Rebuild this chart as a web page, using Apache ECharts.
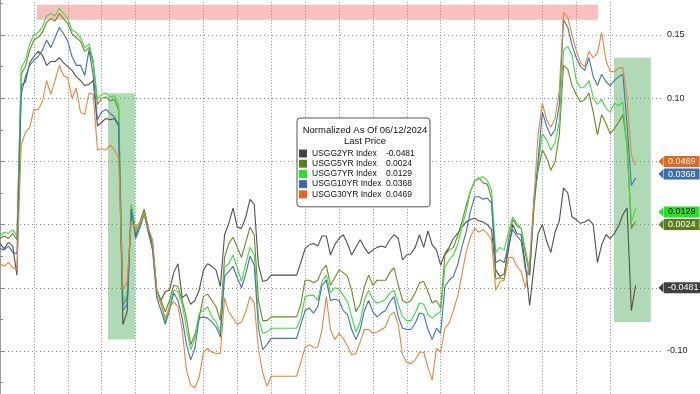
<!DOCTYPE html>
<html>
<head>
<meta charset="utf-8">
<script src="https://cdn.jsdelivr.net/npm/echarts@6/dist/echarts.min.js"></script>
<style>
html,body{margin:0;padding:0;background:#fff;}
#chart{width:700px;height:394px;}
</style>
</head>
<body>
<div id="chart"></div>
<script>
// ---------- DATA ----------
const seriesNames = ['USGG2YR Index', 'USGG5YR Index', 'USGG7YR Index', 'USGG10YR Index', 'USGG30YR Index'];
const titleText = 'Normalized As Of 06/12/2024';
const subtitleText = 'Last Price';

const usgg2yr = [
 -0.015,-0.019,-0.014,-0.017,-0.040, 0.110, 0.113, 0.128, 0.133, 0.137,
  0.134, 0.126, 0.129, 0.129, 0.132, 0.128, 0.125, 0.122, 0.117, 0.114,
  0.110, 0.111, 0.114, 0.078, 0.081, 0.084, 0.083, 0.084, 0.078,-0.079,
 -0.069, 0.015,-0.009, 0.000, 0.012,-0.003,-0.016,-0.052,-0.060,-0.053,
 -0.052,-0.038,-0.031,-0.058,-0.055,-0.063,-0.060,-0.052,-0.036,-0.031,
 -0.033,-0.036,-0.049,-0.008, 0.001, 0.013,-0.002,-0.003, 0.006, 0.020,
  0.016,-0.032,-0.045,-0.044,-0.040,-0.040,-0.040,-0.040,-0.040,-0.040,
 -0.040,-0.030,-0.019,-0.016,-0.015,-0.017,-0.009,-0.009,-0.024,-0.016,
 -0.011,-0.008,-0.015,-0.024,-0.018,-0.012,-0.018,-0.023,-0.020,-0.018,
 -0.017,-0.018,-0.012,-0.008,-0.011,-0.028,-0.024,-0.023,-0.018,-0.008,
 -0.018,-0.005,-0.016,-0.020,-0.032,-0.023,-0.018,-0.011,-0.007,-0.002,
  0.002, 0.004, 0.005, 0.003, 0.002, 0.000,-0.004,-0.036,-0.041,-0.039,
 -0.020, 0.000,-0.007,-0.008,-0.032,-0.064,-0.034,-0.007, 0.000,-0.013,
 -0.022,-0.006, 0.003, 0.029, 0.025, 0.006, 0.004, 0.001, 0.002, 0.004,
  0.000,-0.030,-0.016,-0.008,-0.011,-0.007,-0.001, 0.008, 0.013,-0.068,-0.0481
];
const usgg5yr = [
 -0.011,-0.009,-0.011,-0.007,-0.012, 0.119, 0.125, 0.138, 0.146, 0.148,
  0.152, 0.160, 0.163, 0.161, 0.167, 0.163, 0.159, 0.151, 0.148, 0.145,
  0.137, 0.140, 0.127, 0.095, 0.100, 0.101, 0.098, 0.099, 0.091,-0.064,
 -0.058, 0.013,-0.004, 0.002, 0.012,-0.003,-0.015,-0.052,-0.060,-0.069,
 -0.060,-0.048,-0.049,-0.060,-0.074,-0.095,-0.087,-0.074,-0.057,-0.055,
 -0.060,-0.065,-0.076,-0.026,-0.015,-0.010,-0.018,-0.026,-0.014,-0.002,
 -0.008,-0.060,-0.076,-0.076,-0.073,-0.073,-0.073,-0.073,-0.073,-0.073,
 -0.073,-0.063,-0.044,-0.044,-0.046,-0.044,-0.036,-0.032,-0.048,-0.042,
 -0.036,-0.038,-0.041,-0.052,-0.069,-0.063,-0.049,-0.040,-0.048,-0.044,
 -0.044,-0.044,-0.038,-0.034,-0.048,-0.060,-0.062,-0.060,-0.054,-0.046,
 -0.045,-0.053,-0.062,-0.060,-0.066,-0.024,-0.020,-0.018,-0.009, 0.002,
  0.015, 0.026, 0.034, 0.037, 0.033, 0.032, 0.021,-0.043,-0.042,-0.043,
 -0.012, 0.004,-0.001,-0.003,-0.023,-0.040, 0.020, 0.043, 0.059, 0.053,
  0.043, 0.050, 0.071, 0.126, 0.123, 0.110, 0.103, 0.097, 0.099, 0.104,
  0.089, 0.071, 0.087, 0.080, 0.072, 0.076, 0.081, 0.087, 0.063,-0.003, 0.0024
];
const usgg7yr = [
 -0.009,-0.006,-0.007,-0.004,-0.009, 0.124, 0.130, 0.143, 0.150, 0.152,
  0.156, 0.165, 0.167, 0.165, 0.171, 0.167, 0.163, 0.154, 0.152, 0.148,
  0.140, 0.143, 0.130, 0.099, 0.103, 0.104, 0.101, 0.102, 0.095,-0.060,
 -0.056, 0.016,-0.006, 0.000, 0.010,-0.006,-0.019,-0.056,-0.063,-0.077,
 -0.064,-0.052,-0.053,-0.063,-0.082,-0.099,-0.090,-0.070,-0.068,-0.065,
 -0.073,-0.077,-0.086,-0.034,-0.031,-0.024,-0.034,-0.045,-0.031,-0.018,
 -0.024,-0.074,-0.086,-0.085,-0.082,-0.082,-0.082,-0.082,-0.082,-0.082,
 -0.082,-0.074,-0.057,-0.056,-0.056,-0.060,-0.045,-0.040,-0.054,-0.050,
 -0.051,-0.056,-0.061,-0.073,-0.085,-0.077,-0.060,-0.052,-0.059,-0.062,
 -0.061,-0.059,-0.054,-0.052,-0.063,-0.073,-0.076,-0.076,-0.070,-0.062,
 -0.063,-0.071,-0.074,-0.071,-0.069,-0.034,-0.028,-0.024,-0.016,-0.002,
  0.010, 0.026, 0.035, 0.036, 0.038, 0.035, 0.027,-0.022,-0.018,-0.020,
 -0.006, 0.006, 0.001,-0.003,-0.020,-0.036, 0.012, 0.047, 0.072, 0.067,
  0.059, 0.065, 0.081, 0.138, 0.141, 0.134, 0.114, 0.108, 0.109, 0.114,
  0.101, 0.095, 0.099, 0.092, 0.089, 0.096, 0.094, 0.097, 0.059, 0.002, 0.0129
];
const usgg10yr = [
 -0.019,-0.020,-0.017,-0.022,-0.023, 0.103, 0.117, 0.126, 0.130, 0.133,
  0.138, 0.146, 0.140, 0.148, 0.156, 0.151, 0.145, 0.133, 0.126, 0.126,
  0.118, 0.138, 0.118, 0.083, 0.089, 0.091, 0.088, 0.085, 0.079,-0.068,
 -0.063, 0.012,-0.011,-0.003, 0.008,-0.006,-0.020,-0.058,-0.068,-0.079,
 -0.068,-0.054,-0.060,-0.074,-0.095,-0.107,-0.098,-0.074,-0.073,-0.074,
 -0.077,-0.081,-0.089,-0.041,-0.037,-0.033,-0.042,-0.050,-0.039,-0.025,
 -0.032,-0.082,-0.099,-0.095,-0.090,-0.090,-0.090,-0.090,-0.090,-0.090,
 -0.090,-0.079,-0.068,-0.066,-0.070,-0.065,-0.048,-0.044,-0.060,-0.059,
 -0.060,-0.068,-0.071,-0.083,-0.091,-0.083,-0.068,-0.060,-0.069,-0.073,
 -0.070,-0.068,-0.061,-0.057,-0.073,-0.082,-0.083,-0.083,-0.078,-0.070,
 -0.071,-0.083,-0.091,-0.082,-0.086,-0.049,-0.044,-0.041,-0.032,-0.018,
 -0.006, 0.010, 0.022, 0.022, 0.020, 0.021, 0.017,-0.030,-0.028,-0.030,
 -0.016,-0.004,-0.009,-0.013,-0.036,-0.040, 0.014, 0.051, 0.089, 0.078,
  0.070, 0.075, 0.095, 0.162, 0.156, 0.142, 0.132, 0.125, 0.122, 0.132,
  0.117, 0.110, 0.119, 0.113, 0.110, 0.114, 0.117, 0.119, 0.079, 0.031, 0.0368
];
const usgg30yr = [
 -0.031,-0.033,-0.030,-0.034,-0.036, 0.063, 0.073, 0.077, 0.091, 0.091,
  0.097, 0.114, 0.103, 0.114, 0.126, 0.118, 0.116, 0.100, 0.108, 0.089,
  0.087, 0.104, 0.103, 0.059, 0.060, 0.059, 0.063, 0.059, 0.053,-0.052,
 -0.045, 0.002,-0.003, 0.002, 0.008,-0.003,-0.012,-0.052,-0.063,-0.074,
 -0.066,-0.061,-0.065,-0.083,-0.115,-0.127,-0.129,-0.121,-0.101,-0.098,
 -0.101,-0.102,-0.102,-0.058,-0.069,-0.074,-0.079,-0.077,-0.069,-0.057,
 -0.062,-0.099,-0.117,-0.128,-0.120,-0.120,-0.120,-0.120,-0.120,-0.120,
 -0.120,-0.109,-0.097,-0.095,-0.097,-0.097,-0.083,-0.057,-0.083,-0.091,
 -0.086,-0.090,-0.096,-0.103,-0.102,-0.093,-0.083,-0.083,-0.086,-0.085,
 -0.083,-0.081,-0.072,-0.069,-0.079,-0.103,-0.109,-0.110,-0.107,-0.101,
 -0.101,-0.113,-0.123,-0.098,-0.101,-0.082,-0.078,-0.068,-0.057,-0.040,
 -0.022,-0.010,-0.003,-0.006,-0.004,-0.007,-0.012,-0.052,-0.045,-0.044,
 -0.026,-0.026,-0.033,-0.037,-0.050,-0.028, 0.019, 0.071, 0.096, 0.083,
  0.077, 0.084, 0.106, 0.168, 0.164, 0.150, 0.138, 0.128, 0.125, 0.137,
  0.132, 0.136, 0.152, 0.130, 0.121, 0.121, 0.124, 0.124, 0.099, 0.055, 0.0469
];

// shaded periods: [startStep, endStep, lowValue, highValue]
const peakBand = [8.7, 141.1, 0.162, 0.174];
const selloffBandA = [25.5, 31.9, -0.091, 0.104];
const selloffBandB = [144.9, 153.6, -0.077, 0.132];

// time steps (intraday sessions, 8 steps per day)
const stepCount = 157;
const stepsPerDay = 8;
const lastDayLine = 144;

// ---------- STYLE ----------
const FONT = '"Liberation Sans", Arial, sans-serif';
const seriesValues = [usgg2yr, usgg5yr, usgg7yr, usgg10yr, usgg30yr];
const lineColors = ['#505050', '#6a8a24', '#3fdc3f', '#3f72b6', '#e6873a'];
const legendColors = ['#444444', '#5b7f1a', '#22e622', '#3a6cb4', '#e8671c'];
const tagColors = ['#404040', '#5b7f1a', '#22e622', '#3a6cb4', '#e9661a'];
const tagTextColors = ['#ffffff', '#ffffff', '#000000', '#ffffff', '#ffffff'];
const lastValues = seriesValues.map(a => a[a.length - 1]);
const steps = Array.from({length: stepCount}, (_, i) => String(i));

function band(b, color) {
  return [
    {xAxis: b[0], yAxis: b[2], itemStyle: {color: color}},
    {xAxis: b[1], yAxis: b[3]}
  ];
}

function tag(k) {
  const v = lastValues[k];
  return {
    silent: true,
    animation: false,
    symbol: ['none', 'triangle'],
    symbolSize: [10, 5],
    symbolRotate: 90,
    lineStyle: {width: 0, color: tagColors[k], type: 'solid'},
    label: {
      show: true, position: 'end', distance: 3,
      formatter: v.toFixed(4),
      backgroundColor: tagColors[k], color: tagTextColors[k],
      fontFamily: FONT, fontSize: 9, lineHeight: 10, padding: [1, 4, 0, 4]
    },
    emphasis: {disabled: true},
    data: [{yAxis: v}]
  };
}

const series = seriesNames.map((name, k) => ({
  name: name,
  type: 'line',
  xAxisIndex: 0,
  yAxisIndex: 0,
  data: seriesValues[k].map((v, i) => [i, v]),
  showSymbol: false,
  symbol: 'none',
  clip: false,
  z: 3,
  lineStyle: {width: 1.1, color: lineColors[k]},
  itemStyle: {color: lineColors[k]},
  emphasis: {disabled: true},
  markLine: tag(k)
}));
series[0].markArea = {
  silent: true,
  data: [
    band(peakBand, 'rgba(240,100,100,0.42)'),
    band(selloffBandA, 'rgba(80,170,90,0.45)'),
    band(selloffBandB, 'rgba(80,170,90,0.45)')
  ]
};

const chart = echarts.init(document.getElementById('chart'), null, {renderer: 'canvas'});
chart.setOption({
  animation: false,
  backgroundColor: '#ffffff',
  textStyle: {fontFamily: FONT},
  grid: {left: 0, right: 39, top: -28.2, bottom: -20.2, containLabel: false, outerBoundsMode: 'none'},
  title: {
    text: titleText + '\n' + subtitleText,
    left: 365, top: 124.5, textAlign: 'center', padding: 0,
    textStyle: {fontFamily: FONT, fontSize: 9.5, fontWeight: 'normal', color: '#111', lineHeight: 11}
  },
  legend: {
    orient: 'vertical',
    left: 297, top: 118,
    padding: [31, 10, 8, 2],
    itemGap: 1.2, itemWidth: 8, itemHeight: 8,
    backgroundColor: '#ffffff', borderColor: '#555555', borderWidth: 1, borderRadius: 3,
    selectedMode: false,
    data: seriesNames.map((n, k) => ({name: n, icon: 'rect', itemStyle: {color: legendColors[k]}})),
    formatter: function (name) {
      const k = seriesNames.indexOf(name);
      return '{n|' + name + '}{v|' + lastValues[k].toFixed(4) + '}';
    },
    textStyle: {
      fontFamily: FONT, fontSize: 8.5, color: '#111',
      rich: {
        n: {width: 74, fontFamily: FONT, fontSize: 8.5, lineHeight: 9, color: '#111'},
        v: {width: 34, fontFamily: FONT, fontSize: 8.5, lineHeight: 9, color: '#111'}
      }
    }
  },
  xAxis: [
    {
      type: 'value', min: 0, max: stepCount - 1,
      axisLine: {show: false}, axisTick: {show: false}, axisLabel: {show: false}, splitLine: {show: false}
    },
    {
      type: 'category', data: steps, boundaryGap: false, position: 'bottom',
      axisLine: {show: false}, axisTick: {show: false}, axisLabel: {show: false},
      splitLine: {
        show: true,
        interval: function (idx) { return idx > 0 && idx <= lastDayLine && idx % stepsPerDay === 0; },
        lineStyle: {color: '#8a8a8a', width: 1, type: [1, 2]}
      }
    }
  ],
  yAxis: {
    type: 'value', position: 'right',
    min: -0.15, max: 0.2, interval: 0.05,
    axisLine: {show: true, lineStyle: {color: '#9a9a9a', width: 2}},
    axisTick: {show: true, inside: false, length: 4, lineStyle: {color: '#8a8a8a'}},
    minorTick: {show: true, splitNumber: 2, length: 3, lineStyle: {color: '#8a8a8a'}},
    axisLabel: {
      margin: 6, fontFamily: FONT, fontSize: 9, color: '#222',
      formatter: function (v) { return v.toFixed(2); }
    },
    splitLine: {show: true, lineStyle: {color: '#8a8a8a', width: 1, type: [1, 3]}}
  },
  series: series
});
</script>
</body>
</html>
